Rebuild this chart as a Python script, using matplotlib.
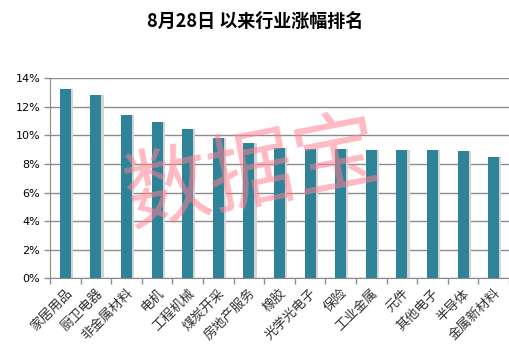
import numpy as np
import matplotlib
matplotlib.use('Agg')
from matplotlib import pyplot as plt
from matplotlib.ticker import FuncFormatter

plt.rcParams['font.family'] = ['Noto Sans CJK SC', 'DejaVu Sans']

# 行业及涨幅 (%)
industries = ['家居用品', '厨卫电器', '非金属材料', '电机', '工程机械', '煤炭开采',
              '房地产服务', '橡胶', '光学光电子', '保险', '工业金属', '元件',
              '其他电子', '半导体', '金属新材料']
gains = [13.25, 12.83, 11.43, 10.94, 10.45, 9.82, 9.49, 9.14, 9.05, 9.05,
         8.98, 8.98, 8.98, 8.91, 8.49]
yticks = [0, 2, 4, 6, 8, 10, 12, 14]

bar_color = '#2e8399'
grid_color = '#8c8c8c'

fig = plt.figure(figsize=(5.1, 3.51), dpi=100)
ax = fig.add_axes([0.098, 0.207, 0.9, 0.57])

x = np.arange(len(industries))
# 阴影
ax.bar(x + 0.07, gains, width=0.36, color='#d4d4d4', zorder=2)
ax.bar(x, gains, width=0.36, color=bar_color, zorder=3)

ax.set_xlim(-0.5, len(industries) - 0.5)
ax.set_ylim(0, 14)
ax.set_yticks(yticks)
ax.yaxis.set_major_formatter(FuncFormatter(lambda v, p: '%d%%' % v))
ax.grid(axis='y', color=grid_color, linewidth=1, zorder=0)
ax.set_axisbelow(True)

ax.set_xticks(x)
ax.set_xticklabels(industries, rotation=45, ha='right', rotation_mode='anchor',
                   fontsize=9.5, color='#333333')
ax.set_xticks(np.arange(len(industries) + 1) - 0.5, minor=True)
ax.tick_params(axis='x', which='major', length=0, pad=6)
ax.tick_params(axis='x', which='minor', length=4, color=grid_color, width=1)
ax.tick_params(axis='y', length=4, color=grid_color, width=1, labelsize=8,
               pad=3)
for lbl in ax.get_yticklabels():
    lbl.set_family('DejaVu Sans')

for s in ['top', 'right']:
    ax.spines[s].set_visible(False)
ax.spines['left'].set_color(grid_color)
ax.spines['bottom'].set_color(grid_color)

fig.text(0.5, 0.94, '8月28日 以来行业涨幅排名', ha='center', va='center',
         fontsize=13, fontweight='bold')

# 水印
fig.text(0.495, 0.5, '数据宝', ha='center', va='center', fontsize=62,
         fontweight='light', color='#ff8090', alpha=0.55, rotation=11,
         zorder=10)

fig.savefig('out.png', dpi=100)
